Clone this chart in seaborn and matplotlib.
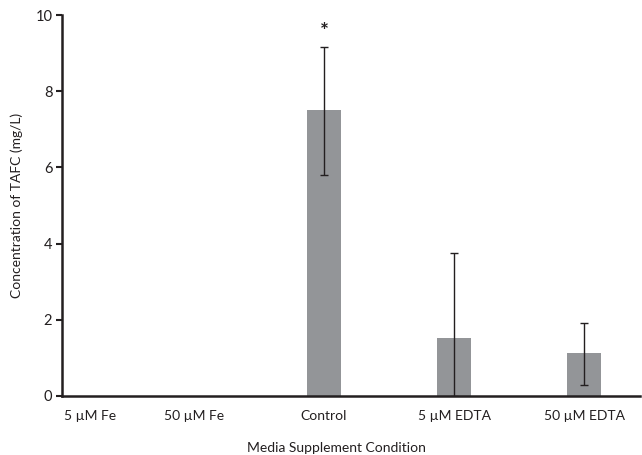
import matplotlib
matplotlib.use("Agg")
import matplotlib.pyplot as plt
import matplotlib.transforms as mtransforms
import seaborn as sns
import pandas as pd

categories = ["5 \u00b5M Fe", "50 \u00b5M Fe", "Control", "5 \u00b5M EDTA", "50 \u00b5M EDTA"]
means = [0.0, 0.0, 7.5, 1.53, 1.13]
err_low = [0.0, 0.0, 1.7, 1.53, 0.84]
err_high = [0.0, 0.0, 1.67, 2.22, 0.79]
yticks = [0, 2, 4, 6, 8, 10]

sns.set_style("white")
plt.rcParams["font.family"] = ["Lato", "DejaVu Sans"]

df = pd.DataFrame({"cond": categories, "val": means})

fig = plt.figure(figsize=(6.42, 4.55), dpi=100)
ax = fig.add_axes([0.0966, 0.13, 0.9004, 0.837])

sns.barplot(data=df, x="cond", y="val", color="#939598", width=0.26,
            saturation=1, ax=ax, errorbar=None)
for p in ax.patches:
    p.set_edgecolor("none")

xs = list(range(len(categories)))
ex = [x for x, m in zip(xs, means) if m > 0]
ey = [m for m in means if m > 0]
el = [l for l, m in zip(err_low, means) if m > 0]
eh = [h for h, m in zip(err_high, means) if m > 0]
ax.errorbar(ex, ey, yerr=[el, eh], fmt="none", ecolor="#231f20",
            elinewidth=1.0, capsize=3, capthick=1.0)

ax.text(2, 9.55, "*", ha="center", va="center", fontsize=15,
        fontweight="bold", color="#231f20")

ax.set_ylim(0, 10)
ax.set_xlim(-0.015, 4.43)
ax.set_yticks(yticks)
ax.set_yticklabels([str(t) for t in yticks])

sns.despine(ax=ax)
for s in ["left", "bottom"]:
    ax.spines[s].set_color("#231f20")
    ax.spines[s].set_linewidth(1.8)

ax.tick_params(axis="y", which="both", left=True, length=4, width=1.5,
               color="#231f20", labelsize=10.5, labelcolor="#231f20", pad=3)
ax.tick_params(axis="x", bottom=False, labelsize=10, labelcolor="#231f20", pad=7)

# shift first label right (as in reference)
lbls = ax.get_xticklabels()
offset = mtransforms.ScaledTranslation(26 / 100, 0, fig.dpi_scale_trans)
lbls[0].set_transform(lbls[0].get_transform() + offset)

ax.set_xlabel("Media Supplement Condition", fontsize=10, color="#231f20")
ax.set_ylabel("Concentration of TAFC (mg/L)", fontsize=10, color="#231f20")
ax.xaxis.set_label_coords(0.475, -0.12)
ax.yaxis.set_label_coords(-0.068, 0.5)

fig.savefig("out.png", dpi=100)
